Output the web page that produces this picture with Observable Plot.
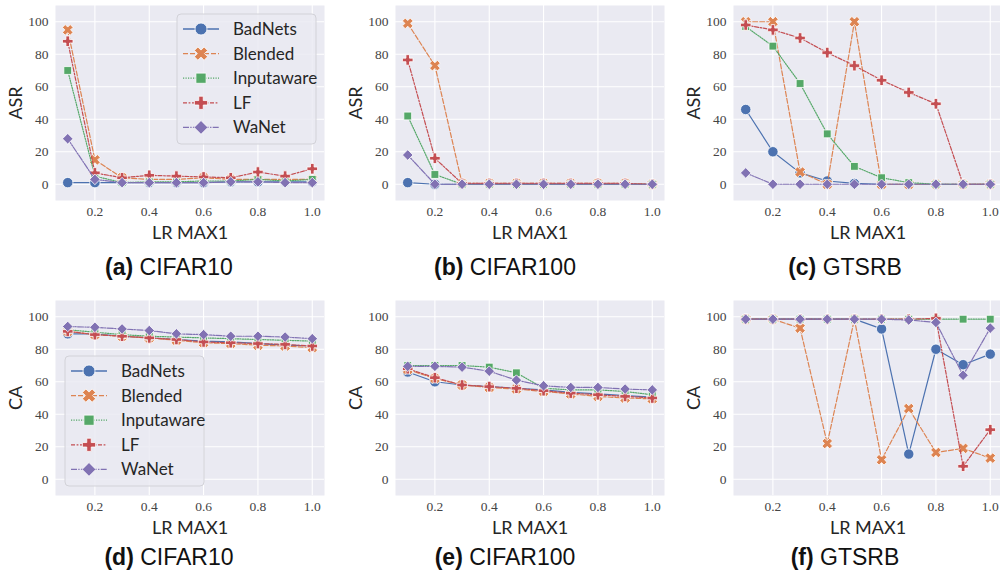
<!DOCTYPE html>
<html><head><meta charset="utf-8">
<script src="https://cdn.jsdelivr.net/npm/d3@7"></script>
<script src="https://cdn.jsdelivr.net/npm/@observablehq/plot@0.6"></script>
<style>
body{margin:0;background:#fff;}
#root{position:relative;width:1000px;height:576px;overflow:hidden;background:#fff;}
.panel{position:absolute;}
.panel svg{max-width:none !important;}
.cap{position:absolute;font-family:"Liberation Sans",Arial,sans-serif;font-size:23px;line-height:1;color:#111;transform:translateX(-50%);white-space:nowrap;}
.cap b{font-weight:bold;}
</style></head>
<body><div id="root"></div>
<script>
// ---------- data ----------
const lrValues = [0.1, 0.2, 0.3, 0.4, 0.5, 0.6, 0.7, 0.8, 0.9, 1.0];
const methods = ["BadNets", "Blended", "Inputaware", "LF", "WaNet"];
const xTicks = [0.2, 0.4, 0.6, 0.8, 1.0];
const yTicks = [0, 20, 40, 60, 80, 100];
// rows in order of methods
const asrCIFAR10 = [
  [1, 1, 1, 1, 1, 1, 1.5, 1.5, 1.5, 1.5],
  [95, 15, 4, 3, 3, 4, 3, 3, 3, 3],
  [70, 5, 1, 1.5, 1.5, 2, 2, 3, 2, 3],
  [88, 7, 4, 5.5, 5, 4.5, 4, 7.5, 5, 9.5],
  [28, 3, 1, 1, 1, 1, 1.5, 1.5, 1, 1]
];
const asrCIFAR100 = [
  [1, 0, 0, 0, 0, 0, 0, 0, 0, 0],
  [99, 73, 0.5, 0.5, 0.5, 0.5, 0.5, 0.5, 0.5, 0],
  [42, 6, 0, 0, 0, 0, 0, 0, 0, 0],
  [76.5, 16, 0.5, 0.5, 0.5, 0.5, 0.5, 0.5, 0.5, 0],
  [18, 0, 0, 0, 0, 0, 0, 0, 0, 0]
];
const asrGTSRB = [
  [46, 20, 7, 2, 0.5, 0, 0, 0, 0, 0],
  [100, 100, 7.5, 0, 100, 0, 0, 0, 0, 0],
  [97, 85, 62, 31, 11, 4, 1, 0, 0, 0],
  [98, 95, 90, 81, 73, 64, 56.5, 49.5, 0, 0],
  [7, 0, 0, 0, 0, 0, 0, 0, 0, 0]
];
const caCIFAR10 = [
  [89.5, 89.5, 88, 87, 86, 85, 84.5, 83.5, 82.5, 82],
  [91, 89, 88, 87, 85.5, 84, 83.5, 82.5, 82, 81],
  [92, 90.5, 89, 88, 87.5, 87, 86.5, 86, 85.5, 85],
  [91, 89, 88, 87, 86, 84.5, 84, 83.5, 83, 82],
  [94, 93.5, 92.5, 91.5, 89.5, 89, 88, 88, 87.5, 86.5]
];
const caCIFAR100 = [
  [66, 60, 58, 57, 56, 55, 53.5, 52.5, 51.5, 50.5],
  [67.5, 62, 58, 56.5, 55.5, 54, 52.5, 51, 50, 49.5],
  [70, 70, 70, 69, 65.5, 56, 55, 55, 54, 52],
  [68, 62.5, 58, 57, 56, 54.5, 53, 52, 51, 50],
  [69.5, 69.5, 69, 66.5, 61, 57.5, 56.5, 56.5, 55.5, 55]
];
const caGTSRB = [
  [98.5, 98.5, 98.5, 98.5, 98.5, 92.5, 15.5, 80, 70.5, 77],
  [98.5, 98.5, 93, 22, 98.5, 12, 43.5, 16.5, 19, 13],
  [98.5, 98.5, 98.5, 98.5, 98.5, 98.5, 98.5, 98.5, 98.5, 98.5],
  [98.5, 98.5, 98.5, 98.5, 98.5, 98.5, 98.5, 99, 8, 30.5],
  [98.5, 98.5, 98.5, 98.5, 98.5, 98.5, 98, 96.5, 64, 93]
];
const panelLetters = ["a", "b", "c", "d", "e", "f"];
const panelDatasets = ["CIFAR10", "CIFAR100", "GTSRB", "CIFAR10", "CIFAR100", "GTSRB"];
const panelMetrics = ["ASR", "ASR", "ASR", "CA", "CA", "CA"];

// ---------- styles ----------
const colors = ["#4C72B0", "#DD8452", "#55A868", "#C44E52", "#8172B3"];
const dashes = [null, "5,2", "1.2,1.3", "4,1.6,1.8,1.6", "6,1.3,1.3,1.3"];

function poly(ctx, pts) {
  ctx.moveTo(pts[0][0], pts[0][1]);
  for (let i = 1; i < pts.length; i++) ctx.lineTo(pts[i][0], pts[i][1]);
  ctx.closePath();
}
function plusPts(r, w) {
  return [[-w,-r],[w,-r],[w,-w],[r,-w],[r,w],[w,w],[w,r],[-w,r],[-w,w],[-r,w],[-r,-w],[-w,-w]];
}
const symCircle = {draw(ctx, size) { const r = Math.sqrt(size / Math.PI); ctx.moveTo(r, 0); ctx.arc(0, 0, r, 0, 2 * Math.PI); }};
const symX = {draw(ctx, size) {
  const r = Math.sqrt(size / Math.PI) * 1.15, w = r * 0.36;
  poly(ctx, plusPts(r, w).map(([x, y]) => [(x - y) / Math.SQRT2, (x + y) / Math.SQRT2]));
}};
const symPlus = {draw(ctx, size) { const r = Math.sqrt(size / Math.PI) * 1.1, w = r * 0.34; poly(ctx, plusPts(r, w)); }};
const symSquare = {draw(ctx, size) { const r = Math.sqrt(size / Math.PI) * 0.85; ctx.rect(-r, -r, 2 * r, 2 * r); }};
const symDiamond = {draw(ctx, size) { const r = Math.sqrt(size / Math.PI) * 1.15; poly(ctx, [[0,-r],[r,0],[0,r],[-r,0]]); }};
const symbols = [symCircle, symX, symSquare, symPlus, symDiamond];
const dotR = [5.2, 4.8, 4.6, 4.8, 4.6];

const tickFont = "'Liberation Serif','DejaVu Serif',serif";
const labelFont = "Lato,'Open Sans',sans-serif";

const panelValues = [asrCIFAR10, asrCIFAR100, asrGTSRB, caCIFAR10, caCIFAR100, caGTSRB];
const colLeft = [0, 340, 678];
const rowTop = [0, 295];
const capCenter = [169, 505, 845];
const capY = [256, 546];
const innerW = 269;
const mL = 55, mR = 5, mT = 5, mB = 45;
const innerH = 195;

const root = document.getElementById("root");

function addLegend(svg, lx, ly) {
  const g = d3.select(svg).append("g").attr("transform", `translate(${lx},${ly})`);
  g.append("rect").attr("width", 139).attr("height", 130).attr("rx", 4)
    .attr("fill", "#EAEAF2").attr("fill-opacity", 0.85).attr("stroke", "#d2d2d8").attr("stroke-width", 1);
  methods.forEach((m, i) => {
    const y = 15 + i * 24.6;
    const line = g.append("line").attr("x1", 6).attr("x2", 42).attr("y1", y).attr("y2", y)
      .attr("stroke", colors[i]).attr("stroke-width", 1.3);
    if (dashes[i]) line.attr("stroke-dasharray", dashes[i]);
    g.append("path").attr("d", d3.symbol(symbols[i], Math.PI * 36)())
      .attr("transform", `translate(24,${y})`).attr("fill", colors[i]).attr("stroke", "white").attr("stroke-width", 0.8);
    g.append("text").attr("x", 56).attr("y", y).attr("dy", "0.35em").text(m)
      .attr("text-anchor", "start")
      .attr("font-family", labelFont).attr("font-size", 17).attr("fill", "#262626");
  });
}

panelValues.forEach((vals, p) => {
  const col = p % 3, row = Math.floor(p / 3);
  const marks = [
    Plot.frame({fill: "#EAEAF2", stroke: "none"}),
    Plot.gridX(xTicks, {stroke: "white", strokeOpacity: 1, strokeWidth: 1.1}),
    Plot.gridY(yTicks, {stroke: "white", strokeOpacity: 1, strokeWidth: 1.1}),
    Plot.axisX(xTicks, {tickSize: 0, tickPadding: 6, tickFormat: d3.format(".1f"), fontFamily: tickFont, fontSize: 13.5, fill: "#444", label: null}),
    Plot.axisX({ticks: [], tickSize: 0, label: "LR MAX1", labelAnchor: "center", labelArrow: "none", labelOffset: 38, fontFamily: labelFont, fontSize: 18, fill: "#262626"}),
    Plot.axisY(yTicks, {tickSize: 0, tickPadding: 7, fontFamily: tickFont, fontSize: 13.5, fill: "#444", label: null}),
    Plot.axisY({ticks: [], tickSize: 0, label: panelMetrics[p], labelAnchor: "center", labelArrow: "none", labelOffset: 46, fontFamily: labelFont, fontSize: 18, fill: "#262626"})
  ];
  methods.forEach((m, i) => {
    const data = lrValues.map((x, j) => ({x, y: vals[i][j], method: m}));
    const lineOpts = {x: "x", y: "y", stroke: colors[i], strokeWidth: 1.2};
    if (dashes[i]) lineOpts.strokeDasharray = dashes[i];
    marks.push(Plot.line(data, lineOpts));
    marks.push(Plot.dot(data, {x: "x", y: "y", r: dotR[i], symbol: symbols[i], fill: colors[i], stroke: "white", strokeWidth: 0.8}));
  });
  const svg = Plot.plot({
    width: mL + innerW + mR,
    height: mT + innerH + mB,
    marginLeft: mL, marginRight: mR, marginTop: mT, marginBottom: mB,
    x: {domain: [0.055, 1.045]},
    y: {domain: [-10, 110]},
    style: {background: "transparent", overflow: "visible", maxWidth: "none"},
    marks
  });
  const div = document.createElement("div");
  div.className = "panel";
  div.style.left = colLeft[col] + "px";
  div.style.top = rowTop[row] + "px";
  div.style.width = (mL + innerW + mR) + "px";
  div.appendChild(svg);
  root.appendChild(div);
  if (p === 0) addLegend(svg, 177, 14);
  if (p === 3) addLegend(svg, 65, 61);
  const cap = document.createElement("div");
  cap.className = "cap";
  cap.style.left = capCenter[col] + "px";
  cap.style.top = capY[row] + "px";
  const b = document.createElement("b");
  b.textContent = `(${panelLetters[p]})`;
  cap.appendChild(b);
  cap.appendChild(document.createTextNode(" " + panelDatasets[p]));
  root.appendChild(cap);
});
</script>
</body></html>
